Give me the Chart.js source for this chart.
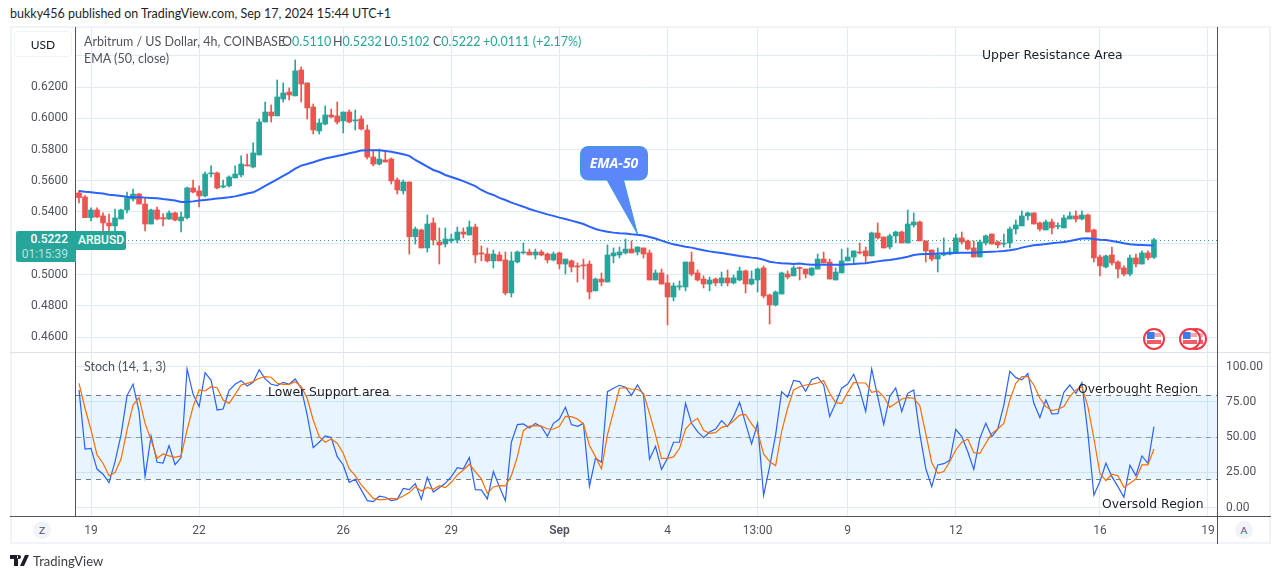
<!DOCTYPE html>
<html>
<head>
<meta charset="utf-8">
<title>ARBUSD</title>
<script src="https://cdn.jsdelivr.net/npm/chart.js@4/dist/chart.umd.js"></script>
<style>
    html, body { margin: 0; padding: 0; background: #fff; overflow: hidden; }
    body { width: 1281px; height: 579px; position: relative; font-family: Lato, sans-serif; font-size: 12px; color: #131722; }
    canvas { position: absolute; left: 0; }
    .abs { position: absolute; white-space: nowrap; line-height: 16px; }
    .line { position: absolute; }
    .legend { color: #50535e; font-size: 12.5px; }
    .up { color: #26a69a; }
    .note { font-family: "DejaVu Sans", sans-serif; font-size: 12.4px; color: #1c1f28; }
    .btn { position: absolute; width: 18px; height: 18px; border-radius: 50%; background: #f0f3fa; color: #50535e; font-size: 10px; line-height: 18px; text-align: center; }
</style>
</head>
<body>
<canvas id="priceChart" width="1281" height="325" style="top:27px;width:1281px;height:325px"></canvas>
<canvas id="stochChart" width="1281" height="192" style="top:352px;width:1281px;height:192px"></canvas>

<!-- frame and axis lines -->
<div class="line" style="left:10px;top:26px;width:1261px;height:518px;border:2px solid #f0f3fa;box-sizing:border-box"></div>
<div class="line" style="left:10px;top:352px;width:1261px;height:1px;background:#e0e3eb"></div>
<div class="line" style="left:75px;top:27px;width:1px;height:489px;background:#50535e"></div>
<div class="line" style="left:1217px;top:27px;width:1px;height:517px;background:#50535e"></div>
<div class="line" style="left:10px;top:516px;width:1261px;height:1px;background:#50535e"></div>

<!-- header and legends -->
<div class="abs" style="left:10px;top:6px;color:#1c1f28;font-size:12.5px">bukky456 published on TradingView.com, Sep 17, 2024 15:44 UTC+1</div>
<div class="abs" style="left:14px;top:31px;width:58px;height:26px;border:1px solid #f0f3fa;border-radius:4px;line-height:26px;text-align:center;box-sizing:border-box;color:#131722">USD</div>
<div class="abs legend" style="left:84px;top:34px">Arbitrum / US Dollar, 4h, COINBASE</div>
<div class="abs legend" style="left:282px;top:34px">O<span class="up">0.5110</span></div>
<div class="abs legend" style="left:333px;top:34px">H<span class="up">0.5232</span></div>
<div class="abs legend" style="left:384px;top:34px">L<span class="up">0.5102</span></div>
<div class="abs legend" style="left:433px;top:34px">C<span class="up">0.5222</span></div>
<div class="abs up" style="left:483px;top:34px;font-size:12.5px">+0.0111 (+2.17%)</div>
<div class="abs legend" style="left:84px;top:51px">EMA (50, close)</div>
<div class="abs legend" style="left:84px;top:359px">Stoch (14, 1, 3)</div>

<!-- last price tags -->
<div class="abs" style="left:16px;top:231px;width:60px;height:31px;background:#26a69a;border-radius:2px 0 0 2px;color:#fff;text-align:right;box-sizing:border-box;padding-right:8px;line-height:15px;padding-top:1px;font-family:Roboto;font-weight:500">0.5222<br><span style="color:#b6e2dd;font-weight:400">01:15:39</span></div>
<div class="abs" style="left:76px;top:231px;width:50px;height:19px;background:#26a69a;border-radius:0 2px 2px 0;color:#fff;text-align:center;line-height:19px;font-family:Roboto;font-weight:500">ARBUSD</div>

<!-- annotations -->
<div class="abs note" style="left:982px;top:47px">Upper Resistance Area</div>
<div class="abs note" style="left:268px;top:384px">Lower Support area</div>
<div class="abs note" style="left:1078px;top:381px">Overbought Region</div>
<div class="abs note" style="left:1102px;top:496px">Oversold Region</div>

<!-- EMA-50 callout -->
<svg class="line" style="left:570px;top:140px" width="90" height="100">
    <path d="M19 6.5 H69 Q77.5 6.5 77.5 15 V31.5 Q77.5 40 69 40 H53.5 L67.5 94 L37 40 H19 Q10.5 40 10.5 31.5 V15 Q10.5 6.5 19 6.5 Z" fill="#5b87fb" stroke="#3c9ad8" stroke-width="1"/>
    <text x="44" y="28" text-anchor="middle" fill="#fff" font-family="Noto Sans" font-size="14" font-weight="700" font-style="italic">EMA-50</text>
</svg>

<!-- economic event flags -->
<svg class="line" style="left:1140px;top:325px" width="75" height="28">
    <defs>
        <g id="flag">
            <circle cx="0" cy="0" r="10" fill="#fff" stroke="#f23645" stroke-width="2"/>
            <rect x="-7" y="-6" width="14" height="4" fill="#f7a8ad"/>
            <rect x="-7" y="1" width="14" height="4" fill="#f25c66"/>
            <rect x="-7" y="-7" width="7.5" height="7" fill="#3d7be8"/>
        </g>
    </defs>
    <use href="#flag" x="56" y="14"/>
    <use href="#flag" x="50" y="14"/>
    <use href="#flag" x="14" y="14"/>
</svg>

<!-- bottom buttons and brand -->
<div class="btn" style="left:33px;top:521px">Z</div>
<div class="btn" style="left:1235px;top:521px">A</div>
<svg class="line" style="left:10px;top:555px" width="20" height="12">
    <path d="M0 0 H8 V11 H4 V4 H0 Z M9 0 a2 2 0 1 0 0.01 0 Z M15 0 H19 L14 11 H10 Z" fill="#1c1f28"/>
</svg>
<div class="abs" style="left:33px;top:553px;color:#3b3d45;font-size:13px">TradingView</div>

<script>
// x axis slots, one every 4h bar, with the labelled ones picked out
const slotCount = 190;
const tickSlots = [2, 20, 44, 62, 80, 98, 113, 128, 146, 170, 188];
const tickTexts = ['19', '22', '26', '29', 'Sep', '4', '13:00', '9', '12', '16', '19'];

const priceTicks = [0.46, 0.48, 0.50, 0.52, 0.54, 0.56, 0.58, 0.60, 0.62, 0.64];
const stochTicks = [0, 25, 50, 75, 100];
const stochBands = [20, 50, 80];

// Candles
const opens = [
    .5522, .5496, .5364, .5413, .5375, .5330, .5311, .5355, .5413, .5483,
    .5515, .5451, .5323, .5413, .5364, .5355, .5394, .5343, .5364, .5554,
    .5535, .5503, .5644, .5650, .5560, .5567, .5618, .5637, .5701, .5688,
    .5765, .5976, .6040, .6015, .6123, .6168, .6143, .6309, .6226, .6072,
    .5919, .5963, .6021, .6015, .5983, .6040, .5983, .5995, .5925, .5752,
    .5707, .5733, .5739, .5605, .5535, .5592, .5242, .5285, .5170, .5330,
    .5208, .5195, .5215, .5221, .5272, .5253, .5304, .5138, .5131, .5087,
    .5125, .5093, .4882, .5080, .5138, .5144, .5125, .5144, .5131, .5093,
    .5138, .5067, .5087, .5055, .5061, .5067, .4895, .4971, .4952, .5119,
    .5125, .5138, .5163, .5144, .5170, .5138, .4965, .5010, .4946, .4856,
    .4920, .4920, .5080, .5010, .4971, .4939, .4971, .4946, .4978, .4946,
    .4965, .5023, .4939, .4965, .5042, .4869, .4805, .4875, .5003, .4991,
    .5042, .5035, .4997, .5035, .5099, .5080, .4965, .5010, .5087, .5112,
    .5144, .5151, .5119, .5266, .5240, .5176, .5247, .5272, .5202, .5317,
    .5336, .5215, .5157, .5099, .5125, .5131, .5144, .5234, .5215, .5170,
    .5112, .5202, .5259, .5208, .5195, .5202, .5291, .5311, .5375, .5394,
    .5330, .5285, .5336, .5307, .5298, .5355, .5375, .5355, .5381, .5285,
    .5112, .5048, .5125, .5080, .5042, .5003, .5106, .5067, .5138, .5110
];
const closes = [
    .5492, .5364, .5413, .5368, .5330, .5311, .5362, .5413, .5492, .5515,
    .5451, .5323, .5413, .5355, .5355, .5394, .5349, .5368, .5554, .5528,
    .5503, .5643, .5650, .5554, .5567, .5624, .5643, .5707, .5695, .5778,
    .5976, .6040, .6015, .6136, .6162, .6149, .6303, .6219, .6066, .5925,
    .5970, .6021, .6008, .5976, .6040, .5976, .5989, .5931, .5752, .5707,
    .5739, .5720, .5599, .5541, .5592, .5242, .5291, .5170, .5323, .5221,
    .5189, .5227, .5227, .5272, .5259, .5304, .5125, .5131, .5087, .5131,
    .5087, .4882, .5087, .5144, .5144, .5125, .5144, .5125, .5093, .5131,
    .5067, .5099, .5048, .5048, .5055, .4888, .4971, .4952, .5125, .5138,
    .5144, .5163, .5138, .5176, .5131, .4965, .5010, .4939, .4856, .4927,
    .4927, .5080, .5003, .4965, .4939, .4965, .4946, .4978, .4946, .4978,
    .5023, .4939, .4971, .5035, .4863, .4805, .4888, .5010, .4984, .5042,
    .5038, .5003, .5042, .5099, .5074, .4971, .5016, .5087, .5112, .5151,
    .5138, .5119, .5266, .5234, .5170, .5247, .5272, .5202, .5323, .5336,
    .5215, .5151, .5099, .5125, .5135, .5144, .5234, .5208, .5163, .5112,
    .5208, .5247, .5195, .5189, .5200, .5291, .5317, .5375, .5394, .5323,
    .5291, .5336, .5298, .5311, .5362, .5375, .5355, .5381, .5272, .5106,
    .5055, .5119, .5074, .5035, .5003, .5106, .5067, .5138, .5106, .5222
];
const highs = [
    .5535, .5505, .5426, .5426, .5394, .5387, .5419, .5419, .5528, .5547,
    .5520, .5490, .5419, .5432, .5390, .5407, .5400, .5400, .5560, .5605,
    .5567, .5656, .5695, .5656, .5605, .5631, .5695, .5759, .5771, .5842,
    .5995, .6104, .6085, .6245, .6226, .6194, .6373, .6328, .6226, .6091,
    .5995, .6079, .6059, .6104, .6040, .6053, .6053, .6015, .5957, .5791,
    .5803, .5784, .5746, .5618, .5605, .5592, .5304, .5291, .5381, .5362,
    .5298, .5298, .5259, .5304, .5298, .5343, .5323, .5183, .5170, .5157,
    .5144, .5144, .5144, .5151, .5202, .5163, .5163, .5157, .5138, .5144,
    .5144, .5099, .5093, .5074, .5099, .5087, .4978, .5010, .5189, .5170,
    .5176, .5227, .5215, .5176, .5170, .5157, .5029, .5035, .4997, .4946,
    .4959, .5080, .5144, .5029, .4991, .4984, .4978, .5016, .5029, .4997,
    .5048, .5029, .5023, .5042, .5055, .4875, .4895, .5016, .5023, .5055,
    .5048, .5035, .5042, .5131, .5144, .5099, .5042, .5163, .5170, .5151,
    .5202, .5176, .5272, .5330, .5240, .5259, .5278, .5278, .5413, .5394,
    .5343, .5215, .5157, .5170, .5234, .5170, .5259, .5272, .5221, .5215,
    .5221, .5253, .5259, .5215, .5259, .5304, .5349, .5407, .5400, .5394,
    .5336, .5349, .5355, .5330, .5381, .5400, .5407, .5407, .5387, .5291,
    .5125, .5125, .5176, .5087, .5055, .5125, .5131, .5151, .5151, .5232
];
const lows = [
    .5458, .5364, .5343, .5364, .5272, .5272, .5272, .5355, .5394, .5471,
    .5451, .5279, .5323, .5349, .5311, .5352, .5343, .5272, .5355, .5522,
    .5432, .5496, .5624, .5547, .5554, .5560, .5618, .5624, .5695, .5682,
    .5765, .5976, .5976, .6015, .6104, .6117, .6143, .6104, .5995, .5899,
    .5899, .5957, .6002, .5963, .5906, .5970, .5925, .5925, .5739, .5695,
    .5701, .5720, .5579, .5515, .5515, .5131, .5195, .5170, .5144, .5189,
    .5067, .5176, .5202, .5202, .5234, .5253, .5074, .5087, .5080, .5042,
    .5087, .4869, .4856, .5074, .5131, .5125, .5099, .5119, .5074, .5087,
    .5035, .5003, .5016, .4952, .4971, .4843, .4895, .4927, .4952, .5074,
    .5106, .5131, .5138, .5125, .5106, .4965, .4965, .4939, .4677, .4831,
    .4901, .4895, .4991, .4959, .4914, .4895, .4927, .4927, .4927, .4939,
    .4959, .4882, .4933, .4888, .4850, .4683, .4798, .4875, .4971, .4991,
    .4965, .4978, .4991, .5035, .5074, .4971, .4965, .5010, .5087, .5067,
    .5131, .5074, .5119, .5227, .5170, .5163, .5202, .5202, .5202, .5304,
    .5215, .5080, .5087, .5016, .5119, .5125, .5144, .5195, .5157, .5112,
    .5112, .5189, .5195, .5170, .5176, .5170, .5259, .5311, .5349, .5323,
    .5279, .5285, .5259, .5291, .5298, .5355, .5336, .5349, .5272, .5080,
    .4991, .5042, .5061, .4978, .4991, .4991, .5048, .5067, .5093, .5102
];

// EMA (50, close)
const ema50 = [
    .5535, .5530, .5526, .5522, .5518, .5511, .5507, .5503, .5498, .5494,
    .5494, .5492, .5490, .5488, .5483, .5479, .5473, .5464, .5464, .5468,
    .5473, .5477, .5481, .5486, .5490, .5494, .5500, .5509, .5518, .5526,
    .5545, .5567, .5588, .5609, .5631, .5652, .5678, .5697, .5707, .5718,
    .5731, .5742, .5750, .5759, .5767, .5776, .5784, .5793, .5795, .5795,
    .5795, .5791, .5786, .5778, .5769, .5759, .5733, .5712, .5690, .5669,
    .5656, .5637, .5624, .5611, .5598, .5582, .5566, .5541, .5522, .5509,
    .5490, .5477, .5460, .5447, .5434, .5419, .5407, .5396, .5385, .5375,
    .5364, .5355, .5345, .5334, .5323, .5306, .5291, .5281, .5274, .5268,
    .5264, .5262, .5257, .5255, .5249, .5240, .5230, .5217, .5204, .5193,
    .5185, .5178, .5172, .5163, .5155, .5148, .5142, .5138, .5131, .5125,
    .5119, .5114, .5108, .5104, .5095, .5082, .5076, .5072, .5070, .5067,
    .5070, .5065, .5063, .5063, .5063, .5063, .5063, .5063, .5065, .5067,
    .5070, .5072, .5078, .5084, .5089, .5093, .5099, .5106, .5114, .5125,
    .5129, .5131, .5131, .5134, .5136, .5136, .5138, .5140, .5140, .5140,
    .5142, .5144, .5146, .5148, .5151, .5155, .5161, .5172, .5180, .5187,
    .5191, .5195, .5200, .5204, .5208, .5215, .5223, .5230, .5232, .5227,
    .5223, .5221, .5215, .5208, .5200, .5193, .5191, .5189, .5187, .5185
];

// Stoch (14, 1, 3)
const stochK = [
    83.4, 41.5, 42, 27.3, 23.6, 17.7, 32.6, 51.5, 79.4, 87.4,
    68, 21.9, 50.8, 32.1, 31.6, 43.9, 30.4, 35.6, 98.3, 80.3,
    71.6, 95.7, 90.2, 69.2, 69.9, 83.1, 87.4, 90, 86.2, 88.8,
    97.8, 91.2, 87.4, 86.5, 88.8, 87.4, 91.2, 84.6, 65.6, 42.5,
    46.3, 50.8, 49.6, 36.1, 30.2, 17.9, 20, 12.5, 4.9, 4.2,
    8, 7.3, 4.9, 5.8, 13.6, 12.7, 17, 5.8, 21.4, 11,
    14.1, 17.2, 21.9, 28.3, 27.4, 35.4, 12.7, 12.5, 6.1, 25.5,
    14.8, 4.9, 46.3, 58.8, 59.3, 56.4, 59.7, 57.4, 50.5, 59.7,
    62.8, 71.1, 58.8, 57.6, 59.7, 15, 34.9, 32.1, 82.2, 84.6,
    86.7, 85.3, 79.6, 86.9, 79.8, 34.2, 43.4, 27.1, 34.9, 46.3,
    46.3, 73.9, 59.7, 53.8, 49.6, 53.6, 55.7, 61.6, 57.4, 64.5,
    74.6, 59.7, 45.1, 59.7, 8.7, 29, 51.5, 82.2, 78.2, 90.2,
    89.3, 82.4, 90.7, 92.4, 86.9, 64.5, 73.9, 84.6, 87.6, 94.5,
    83.4, 68, 98.3, 78.7, 59, 78.7, 84.8, 68, 81, 83.4,
    52.6, 27.8, 14.8, 30.2, 31.1, 33.5, 55.5, 50.3, 39.6, 27.1,
    49.1, 59.7, 50.3, 55.7, 72.7, 96.6, 92.1, 90.5, 95, 73.9,
    63.8, 76.3, 66.4, 66.6, 81.7, 86.9, 81, 88.6, 52.6, 8.7,
    18.4, 31.4, 21.9, 14.8, 7.3, 30, 22.6, 36.6, 31.4, 57.4
];
const stochD = [
    88.1, 70.4, 55, 37.3, 31.4, 22.6, 24.8, 34.4, 55, 72.7,
    77.9, 59.7, 47.9, 34.9, 38, 36.6, 35.6, 36.6, 55, 71.6,
    83.4, 82.7, 85.7, 85, 76.3, 73.9, 80.3, 86.9, 88.1, 89.3,
    91.7, 92.8, 92.4, 88.1, 87.4, 87.4, 89.3, 85.7, 77.5, 62.1,
    50.3, 46.3, 48.6, 45.6, 38.5, 27.4, 22.6, 16, 11.3, 6.5,
    5.4, 5.8, 6.5, 6.1, 8.2, 10.6, 14.8, 11.7, 14.3, 12.9,
    15.5, 14.1, 17.9, 23.1, 26.6, 30.7, 25.5, 20.3, 10, 14.6,
    15.5, 15.3, 22.6, 36.1, 54.5, 57.8, 58.1, 57.8, 55.7, 55.7,
    57.6, 64.7, 64.5, 62.8, 59.3, 43.9, 36.1, 27.4, 51.5, 68,
    84.6, 85, 83.9, 83.9, 81, 66.8, 51.5, 34.9, 34.9, 35.9,
    42, 55.7, 60.4, 63.3, 54.8, 52.6, 53.1, 56.9, 58.1, 61.6,
    65.6, 66.1, 59.3, 53.8, 38, 32.6, 29.7, 53.8, 70.4, 83.4,
    85.7, 86.9, 87.4, 88.3, 90, 81, 74.4, 73.7, 81.7, 88.8,
    88.3, 88.3, 81.7, 82.7, 78.7, 71.1, 73.9, 77, 77.9, 77.5,
    72.3, 52.6, 31.8, 24.3, 25.5, 32.6, 40.8, 46.3, 48.6, 38.9,
    38.5, 45.6, 52.6, 55.7, 59.7, 76.3, 88.1, 92.8, 92.8, 86.9,
    77.5, 71.6, 68.7, 69.7, 71.6, 78.7, 83.4, 85.7, 71.6, 49.1,
    24.3, 19.1, 23.6, 22.6, 14.3, 17.2, 20.3, 30.2, 30.2, 41.5
];

const GREEN = '#26a69a';
const RED = '#ef5350';
const GRID = '#e1ecf2';
const TICK_COLOR = '#50535e';
const TICK_FONT = { family: 'Roboto, sans-serif', size: 12 };

const slotLabels = [];
for (let i = 0; i < slotCount; i++) {
    const at = tickSlots.indexOf(i);
    slotLabels.push(at >= 0 ? tickTexts[at] : '');
}
const candleColors = opens.map((o, i) => (closes[i] >= o ? GREEN : RED));

// chart.js reserves half a label of room at the scale ends, take it back
function noScalePadding(scale) {
    scale.paddingTop = 0;
    scale.paddingBottom = 0;
    scale.paddingLeft = 0;
    scale.paddingRight = 0;
}

// shared x axis, grid lines only on the labelled slots
function xAxis(showLabels) {
    return {
        type: 'category',
        labels: slotLabels,
        offset: true,
        border: { display: false },
        grid: {
            offset: false,
            drawTicks: false,
            color: ctx => (slotLabels[ctx.index] ? GRID : 'transparent')
        },
        ticks: {
            display: showLabels,
            autoSkip: false,
            maxRotation: 0,
            padding: 8,
            color: TICK_COLOR,
            font: ctx => ({ ...TICK_FONT, weight: ctx.tick && ctx.tick.label === 'Sep' ? '600' : '400' })
        },
        afterFit: scale => {
            scale.height = showLabels ? 28 : 0;
            noScalePadding(scale);
        }
    };
}

// dotted line at the last close
const lastPriceLine = {
    id: 'lastPriceLine',
    beforeDatasetsDraw(chart) {
        const { ctx, chartArea, scales } = chart;
        const y = Math.round(scales.y.getPixelForValue(closes[closes.length - 1])) + 0.5;
        ctx.save();
        ctx.strokeStyle = GREEN;
        ctx.setLineDash([1, 3]);
        ctx.beginPath();
        ctx.moveTo(chartArea.left, y);
        ctx.lineTo(chartArea.right, y);
        ctx.stroke();
        ctx.restore();
    }
};

// 20 / 50 / 80 band of the stochastic
const stochBandPlugin = {
    id: 'stochBandPlugin',
    beforeDatasetsDraw(chart) {
        const { ctx, chartArea, scales } = chart;
        const top = scales.y.getPixelForValue(stochBands[2]);
        const bottom = scales.y.getPixelForValue(stochBands[0]);
        ctx.save();
        ctx.fillStyle = 'rgba(33, 150, 243, 0.1)';
        ctx.fillRect(chartArea.left, top, chartArea.right - chartArea.left, bottom - top);
        stochBands.forEach(level => {
            const y = Math.round(scales.y.getPixelForValue(level)) + 0.5;
            ctx.strokeStyle = level === 50 ? 'rgba(120, 123, 134, 0.7)' : '#787b86';
            ctx.setLineDash([5, 5]);
            ctx.beginPath();
            ctx.moveTo(chartArea.left, y);
            ctx.lineTo(chartArea.right, y);
            ctx.stroke();
        });
        ctx.restore();
    }
};

// Price pane
new Chart(document.getElementById('priceChart').getContext('2d'), {
    data: {
        labels: slotLabels,
        datasets: [
            {
                type: 'line',
                data: ema50,
                borderColor: '#2962ff',
                borderWidth: 2,
                pointRadius: 0,
                tension: 0,
                order: 0
            },
            {
                type: 'bar',
                data: opens.map((o, i) => [o, closes[i]]),
                backgroundColor: candleColors,
                barThickness: 5,
                minBarLength: 1,
                grouped: false,
                order: 1
            },
            {
                type: 'bar',
                data: lows.map((l, i) => [l, highs[i]]),
                backgroundColor: candleColors,
                barThickness: 1,
                grouped: false,
                order: 2
            }
        ]
    },
    options: {
        responsive: false,
        animation: false,
        events: [],
        layout: { padding: 0 },
        plugins: { legend: { display: false }, tooltip: { enabled: false } },
        scales: {
            x: xAxis(false),
            y: {
                position: 'left',
                min: 0.4504,
                max: 0.6584,
                border: { display: false },
                grid: { color: GRID, drawTicks: false },
                afterBuildTicks: scale => { scale.ticks = priceTicks.map(value => ({ value })); },
                afterFit: scale => {
                    scale.width = 76;
                    noScalePadding(scale);
                },
                ticks: {
                    padding: 8,
                    color: TICK_COLOR,
                    font: TICK_FONT,
                    callback: value => (value > 0.63 ? '' : value.toFixed(4))
                }
            },
            yRight: {
                position: 'right',
                display: true,
                min: 0,
                max: 1,
                border: { display: false },
                grid: { display: false },
                ticks: { display: false },
                afterFit: scale => {
                    scale.width = 64;
                    noScalePadding(scale);
                }
            }
        }
    },
    plugins: [lastPriceLine]
});

// Stochastic pane
new Chart(document.getElementById('stochChart').getContext('2d'), {
    data: {
        labels: slotLabels,
        datasets: [
            {
                type: 'line',
                data: stochD,
                borderColor: '#ff6d00',
                borderWidth: 1.2,
                pointRadius: 0,
                tension: 0,
                order: 0
            },
            {
                type: 'line',
                data: stochK,
                borderColor: '#2962ff',
                borderWidth: 1.2,
                pointRadius: 0,
                tension: 0,
                order: 1
            }
        ]
    },
    options: {
        responsive: false,
        animation: false,
        events: [],
        layout: { padding: { left: 76, right: 0, top: 0, bottom: 0 } },
        plugins: { legend: { display: false }, tooltip: { enabled: false } },
        scales: {
            x: xAxis(true),
            y: {
                position: 'right',
                min: -6,
                max: 110.3,
                border: { display: false },
                grid: { color: GRID, drawTicks: false },
                afterBuildTicks: scale => { scale.ticks = stochTicks.map(value => ({ value })); },
                afterFit: scale => {
                    scale.width = 64;
                    noScalePadding(scale);
                },
                ticks: {
                    padding: 9,
                    color: TICK_COLOR,
                    font: TICK_FONT,
                    callback: value => value.toFixed(2)
                }
            }
        }
    },
    plugins: [stochBandPlugin]
});
</script>
</body>
</html>
